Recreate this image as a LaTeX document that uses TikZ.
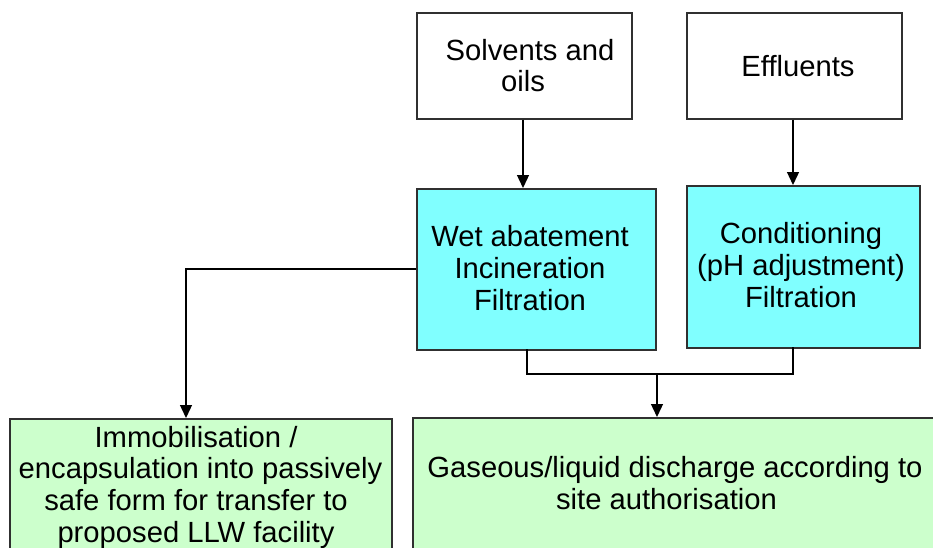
\documentclass[tikz,border=0pt]{standalone}
\usepackage{fontspec}
\setmainfont{Liberation Sans}
\usetikzlibrary{arrows.meta}
\definecolor{boxline}{HTML}{303030}
\definecolor{procfill}{HTML}{80FFFF}
\definecolor{outfill}{HTML}{CCFFCC}
\tikzset{
  box/.style={draw=boxline, line width=1.5pt, inner sep=0pt, anchor=north west},
  srcbox/.style={box, fill=white},
  procbox/.style={box, fill=procfill},
  outbox/.style={box, fill=outfill},
  label text/.style={inner sep=0pt, align=center,
    font=\fontsize{29.2pt}{31.7pt}\selectfont},
  flow/.style={draw=black, line width=1.3pt},
  flowarrow/.style={flow, -{Triangle[width=12pt,length=13pt]}}
}
\begin{document}
\begin{tikzpicture}[x=1pt,y=-1pt]
\useasboundingbox (0,0) rectangle (933,547);
\clip (0,0) rectangle (933,547);

% sources
\node[srcbox, minimum width=215pt, minimum height=106pt] (solv) at (416,12) {};
\node[label text] (solvT) at (523,65.5) {\hspace*{14pt}Solvents and\\oils};
\node[srcbox, minimum width=215pt, minimum height=106pt] (eff) at (686,12) {};
\node[label text] (effT) at (798,66) {Effluents};

% treatment
\node[procbox, minimum width=239pt, minimum height=161pt] (wet) at (416,188) {};
\node[label text] (wetT) at (530,268) {Wet abatement\\Incineration\\Filtration};
\node[procbox, minimum width=233pt, minimum height=162pt] (cond) at (686,185) {};
\node[label text] (condT) at (801,265) {Conditioning\\(pH adjustment)\\Filtration};

% outlets (run past the lower and right edges)
\node[outbox, minimum width=382pt, minimum height=200pt] (immob) at (9,418) {};
\node[label text] (immobT) at (196,487) {Immobilisation /\\\hspace*{9pt}encapsulation into passively\\safe form for transfer to\\proposed LLW facility};
\node[outbox, minimum width=600pt, minimum height=200pt] (gas) at (412,417) {};
\node[label text] (gasT) at (675,483) {Gaseous/liquid discharge according to\\site authorisation\hspace*{17pt}};

% connector points
\coordinate (wetOut) at (527,349);
\coordinate (condOut) at (793,347);
\coordinate (join) at (657,374);
\coordinate (immobIn) at (186,418);

% connectors
\draw[flowarrow] (solv.south -| 523,0) -- (wet.north -| 523,0);
\draw[flowarrow] (eff.south -| 793,0) -- (cond.north -| 793,0);
\draw[flowarrow] (wet.west |- 0,269) -| (immobIn);
\draw[flow] (wetOut) |- (join) -| (condOut);
\draw[flowarrow] (join) -- (gas.north -| join);
\end{tikzpicture}
\end{document}
